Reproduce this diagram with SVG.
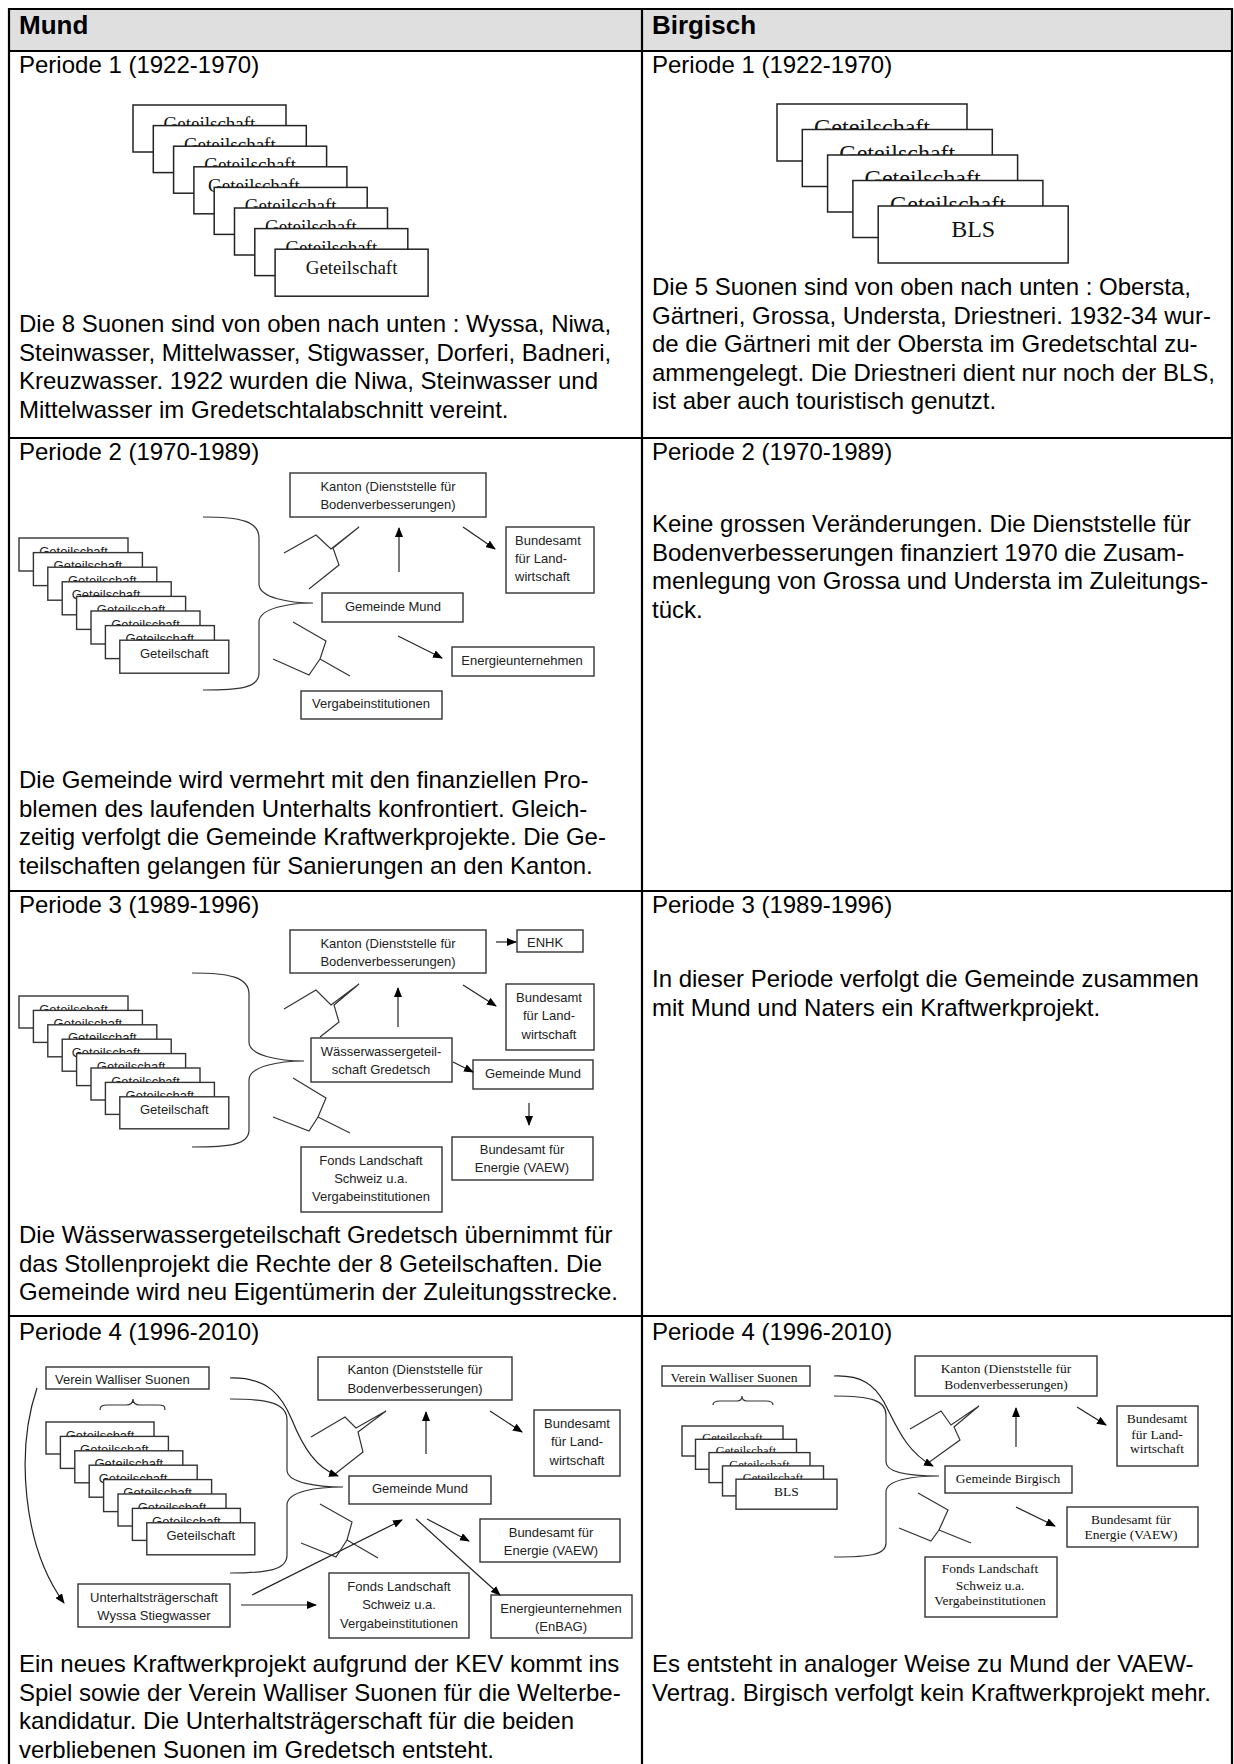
<svg xmlns="http://www.w3.org/2000/svg" width="1234" height="1764" viewBox="0 0 1234 1764">
<style>
.grid{stroke:#000;stroke-width:2.2;fill:none}
.hdr{font-family:'Liberation Sans',Arial,sans-serif;font-size:26px;font-weight:bold;fill:#000}
.body{font-family:'Liberation Sans',Arial,sans-serif;font-size:24px;fill:#000}
.box{fill:#fff;stroke:#222;stroke-width:1.5}
.sbox{fill:#fff;stroke:#333;stroke-width:1.4}
.cal{font-family:'Liberation Sans',Arial,sans-serif;font-size:13px;fill:#222;text-anchor:middle}
.tms{font-family:'Liberation Serif','Times New Roman',serif;fill:#111;text-anchor:middle}
.ln{fill:none;stroke:#333;stroke-width:1.2}
.ar{fill:none;stroke:#222;stroke-width:1.2;marker-end:url(#ah)}
</style>
<defs>
<marker id="ah" markerWidth="10" markerHeight="8" refX="9" refY="4" orient="auto" markerUnits="userSpaceOnUse"><path d="M0,0 L10,4 L0,8 z" fill="#000"/></marker>
</defs>
<rect width="1234" height="1764" fill="#fff"/>

<g id="table">
<rect x="9" y="9" width="1223" height="42" fill="#dfdfdf"/>
<path class="grid" d="M9,1764 L9,9 L1232,9 L1232,1764 M642,9 L642,1764 M9,51 L1232,51 M9,438 L1232,438 M9,891 L1232,891 M9,1316 L1232,1316"/>
<text class="hdr" x="19" y="34">Mund</text>
<text class="hdr" x="652" y="34">Birgisch</text>
</g>

<g id="labels">
<text class="body" x="19" y="73">Periode 1 (1922-1970)</text>
<text class="body" x="652" y="73">Periode 1 (1922-1970)</text>
<text class="body" x="19" y="460">Periode 2 (1970-1989)</text>
<text class="body" x="652" y="460">Periode 2 (1970-1989)</text>
<text class="body" x="19" y="913">Periode 3 (1989-1996)</text>
<text class="body" x="652" y="913">Periode 3 (1989-1996)</text>
<text class="body" x="19" y="1340">Periode 4 (1996-2010)</text>
<text class="body" x="652" y="1340">Periode 4 (1996-2010)</text>
</g>

<g id="texts" class="body">
<text x="19" y="332">Die 8 Suonen sind von oben nach unten : Wyssa, Niwa,</text>
<text x="19" y="360.5">Steinwasser, Mittelwasser, Stigwasser, Dorferi, Badneri,</text>
<text x="19" y="389">Kreuzwasser. 1922 wurden die Niwa, Steinwasser und</text>
<text x="19" y="417.5">Mittelwasser im Gredetschtalabschnitt vereint.</text>
<text x="652" y="295">Die 5 Suonen sind von oben nach unten : Obersta,</text>
<text x="652" y="323.5">Gärtneri, Grossa, Understa, Driestneri. 1932-34 wur-</text>
<text x="652" y="352">de die Gärtneri mit der Obersta im Gredetschtal zu-</text>
<text x="652" y="380.5">ammengelegt. Die Driestneri dient nur noch der BLS,</text>
<text x="652" y="409">ist aber auch touristisch genutzt.</text>
<text x="19" y="788">Die Gemeinde wird vermehrt mit den finanziellen Pro-</text>
<text x="19" y="816.5">blemen des laufenden Unterhalts konfrontiert. Gleich-</text>
<text x="19" y="845">zeitig verfolgt die Gemeinde Kraftwerkprojekte. Die Ge-</text>
<text x="19" y="873.5">teilschaften gelangen für Sanierungen an den Kanton.</text>
<text x="652" y="532">Keine grossen Veränderungen. Die Dienststelle für</text>
<text x="652" y="560.5">Bodenverbesserungen finanziert 1970 die Zusam-</text>
<text x="652" y="589">menlegung von Grossa und Understa im Zuleitungs-</text>
<text x="652" y="617.5">tück.</text>
<text x="19" y="1243">Die Wässerwassergeteilschaft Gredetsch übernimmt für</text>
<text x="19" y="1271.5">das Stollenprojekt die Rechte der 8 Geteilschaften. Die</text>
<text x="19" y="1300">Gemeinde wird neu Eigentümerin der Zuleitungsstrecke.</text>
<text x="652" y="987">In dieser Periode verfolgt die Gemeinde zusammen</text>
<text x="652" y="1015.5">mit Mund und Naters ein Kraftwerkprojekt.</text>
<text x="19" y="1672">Ein neues Kraftwerkprojekt aufgrund der KEV kommt ins</text>
<text x="19" y="1700.5">Spiel sowie der Verein Walliser Suonen für die Welterbe-</text>
<text x="19" y="1729">kandidatur. Die Unterhaltsträgerschaft für die beiden</text>
<text x="19" y="1757.5">verbliebenen Suonen im Gredetsch entsteht.</text>
<text x="652" y="1672">Es entsteht in analoger Weise zu Mund der VAEW-</text>
<text x="652" y="1700.5">Vertrag. Birgisch verfolgt kein Kraftwerkprojekt mehr.</text>
</g>

<!-- Periode 1 Mund stack -->
<g id="p1m-stack" class="tms" font-size="19">
<g id="p1m-g1"><rect class="box" x="133" y="105" width="153" height="47"/><text x="209.5" y="130">Geteilschaft</text></g>
<g id="p1m-g2"><rect class="box" x="153.3" y="125.6" width="153" height="47"/><text x="229.8" y="150.6">Geteilschaft</text></g>
<g id="p1m-g3"><rect class="box" x="173.6" y="146.2" width="153" height="47"/><text x="250.1" y="171.2">Geteilschaft</text></g>
<g id="p1m-g4"><rect class="box" x="193.9" y="166.8" width="153" height="47"/><text x="254" y="191.8">Geteilschaft</text></g>
<g id="p1m-g5"><rect class="box" x="214.2" y="187.4" width="153" height="47"/><text x="290.7" y="212.4">Geteilschaft</text></g>
<g id="p1m-g6"><rect class="box" x="234.5" y="208" width="153" height="47"/><text x="311" y="233">Geteilschaft</text></g>
<g id="p1m-g7"><rect class="box" x="254.8" y="228.6" width="153" height="47"/><text x="331.3" y="253.6">Geteilschaft</text></g>
<g id="p1m-g8"><rect class="box" x="275.1" y="249.2" width="153" height="47"/><text x="351.6" y="274.2">Geteilschaft</text></g>
</g>

<!-- Periode 1 Birgisch stack -->
<g id="p1b-stack" class="tms" font-size="24">
<g id="p1b-g1"><rect class="box" x="777" y="104" width="190" height="57"/><text x="872" y="135">Geteilschaft</text></g>
<g id="p1b-g2"><rect class="box" x="802.3" y="129.5" width="190" height="57"/><text x="897.3" y="160.5">Geteilschaft</text></g>
<g id="p1b-g3"><rect class="box" x="827.6" y="155" width="190" height="57"/><text x="922.6" y="186">Geteilschaft</text></g>
<g id="p1b-g4"><rect class="box" x="852.9" y="180.5" width="190" height="57"/><text x="947.9" y="211.5">Geteilschaft</text></g>
<g id="p1b-bls"><rect class="box" x="878.2" y="206" width="190" height="57"/><text x="973.2" y="237">BLS</text></g>
</g>

<!-- Periode 2 Mund -->
<g id="p2m-stack" class="cal">
<g id="p2m-g1"><rect class="sbox" x="19" y="538" width="109" height="33"/><text x="73.5" y="555.5">Geteilschaft</text></g>
<g id="p2m-g2"><rect class="sbox" x="33.4" y="552.6" width="109" height="33"/><text x="87.9" y="570.1">Geteilschaft</text></g>
<g id="p2m-g3"><rect class="sbox" x="47.8" y="567.2" width="109" height="33"/><text x="102.3" y="584.7">Geteilschaft</text></g>
<g id="p2m-g4"><rect class="sbox" x="62.2" y="581.8" width="109" height="33"/><text x="106" y="599.3">Geteilschaft</text></g>
<g id="p2m-g5"><rect class="sbox" x="76.6" y="596.4" width="109" height="33"/><text x="131.1" y="613.9">Geteilschaft</text></g>
<g id="p2m-g6"><rect class="sbox" x="91" y="611" width="109" height="33"/><text x="145.5" y="628.5">Geteilschaft</text></g>
<g id="p2m-g7"><rect class="sbox" x="105.4" y="625.6" width="109" height="33"/><text x="159.9" y="643.1">Geteilschaft</text></g>
<g id="p2m-g8"><rect class="sbox" x="119.8" y="640.2" width="109" height="33"/><text x="174.3" y="657.7">Geteilschaft</text></g>
</g>
<g id="p2m-kanton" class="cal"><rect class="sbox" x="290" y="473" width="196" height="44"/><text x="388" y="490.5">Kanton (Dienststelle für</text><text x="388" y="508.5">Bodenverbesserungen)</text></g>
<g id="p2m-bla" class="cal"><rect class="sbox" x="506" y="527" width="88" height="66"/><text x="515" y="544.5" text-anchor="start">Bundesamt</text><text x="515" y="562.5" text-anchor="start">für Land-</text><text x="515" y="581" text-anchor="start">wirtschaft</text></g>
<g id="p2m-gemeinde" class="cal"><rect class="sbox" x="322" y="593" width="141" height="29"/><text x="393" y="610.5">Gemeinde Mund</text></g>
<g id="p2m-energie" class="cal"><rect class="sbox" x="452" y="647" width="142" height="29"/><text x="522" y="664.5">Energieunternehmen</text></g>
<g id="p2m-vergabe" class="cal"><rect class="sbox" x="301" y="691" width="141" height="28"/><text x="371" y="707.5">Vergabeinstitutionen</text></g>
<g id="p2m-connectors">
<path class="ln" d="M203,517 C240,517 259,521 259,538 L259,584 C259,598 290,603 313,603 C290,603 259,608 259,622 L259,673 C259,688 240,690 203,690"/>
<path class="ln" d="M284,553 L316,535 L331,549 L359,527 M309,589 L339,565 L333,548 L359,527"/>
<path class="ln" d="M293,622 L326,641 L320,659 L350,676 M273,659 L309,675 L320,659"/>
<path class="ar" d="M463,527 L495,549"/>
<path class="ar" d="M399,572 L399,528"/>
<path class="ar" d="M398,636 L442,658"/>
</g>

<!-- Periode 3 Mund -->
<g id="p3m-stack" class="cal">
<g id="p3m-g1"><rect class="sbox" x="19" y="996" width="109" height="32"/><text x="73.5" y="1013.5">Geteilschaft</text></g>
<g id="p3m-g2"><rect class="sbox" x="33.4" y="1010.4" width="109" height="32"/><text x="87.9" y="1027.9">Geteilschaft</text></g>
<g id="p3m-g3"><rect class="sbox" x="47.8" y="1024.8" width="109" height="32"/><text x="102.3" y="1042.3">Geteilschaft</text></g>
<g id="p3m-g4"><rect class="sbox" x="62.2" y="1039.2" width="109" height="32"/><text x="106" y="1056.7">Geteilschaft</text></g>
<g id="p3m-g5"><rect class="sbox" x="76.6" y="1053.6" width="109" height="32"/><text x="131.1" y="1071.1">Geteilschaft</text></g>
<g id="p3m-g6"><rect class="sbox" x="91" y="1068" width="109" height="32"/><text x="145.5" y="1085.5">Geteilschaft</text></g>
<g id="p3m-g7"><rect class="sbox" x="105.4" y="1082.4" width="109" height="32"/><text x="159.9" y="1099.9">Geteilschaft</text></g>
<g id="p3m-g8"><rect class="sbox" x="119.8" y="1096.8" width="109" height="32"/><text x="174.3" y="1114.3">Geteilschaft</text></g>
</g>
<g id="p3m-kanton" class="cal"><rect class="sbox" x="290" y="930" width="196" height="43"/><text x="388" y="947.5">Kanton (Dienststelle für</text><text x="388" y="965.5">Bodenverbesserungen)</text></g>
<g id="p3m-enhk" class="cal"><rect class="sbox" x="517" y="930" width="66" height="22"/><text x="527" y="946.5" text-anchor="start">ENHK</text></g>
<g id="p3m-bla" class="cal"><rect class="sbox" x="506" y="984" width="88" height="66"/><text x="549" y="1002">Bundesamt</text><text x="549" y="1020">für Land-</text><text x="549" y="1038.5">wirtschaft</text></g>
<g id="p3m-wwg" class="cal"><rect class="sbox" x="311" y="1038" width="141" height="44"/><text x="381" y="1055.5">Wässerwassergeteil-</text><text x="381" y="1073.5">schaft Gredetsch</text></g>
<g id="p3m-gemeinde" class="cal"><rect class="sbox" x="473" y="1060" width="120" height="29"/><text x="533" y="1077.5">Gemeinde Mund</text></g>
<g id="p3m-bfe" class="cal"><rect class="sbox" x="452" y="1137" width="141" height="43"/><text x="522" y="1154">Bundesamt für</text><text x="522" y="1172">Energie (VAEW)</text></g>
<g id="p3m-fonds" class="cal"><rect class="sbox" x="301" y="1147" width="141" height="65"/><text x="371" y="1164.5">Fonds Landschaft</text><text x="371" y="1182.5">Schweiz u.a.</text><text x="371" y="1201">Vergabeinstitutionen</text></g>
<g id="p3m-connectors">
<path class="ln" d="M192,973 C229,973 249,977 249,994 L249,1042 C249,1056 280,1061 304,1061 C280,1061 249,1066 249,1080 L249,1130 C249,1145 229,1147 192,1147"/>
<path class="ln" d="M284,1009 L316,990 L331,1005 L359,984 M320,1037 L339,1022 L334,1005 L359,984"/>
<path class="ln" d="M293,1078 L326,1098 L318,1117 L350,1133 M273,1117 L309,1131 L318,1117"/>
<path class="ar" d="M496,942 L516,942"/>
<path class="ar" d="M463,985 L496,1006"/>
<path class="ar" d="M398,1027 L398,988"/>
<path class="ar" d="M453,1062 L473,1072"/>
<path class="ar" d="M529,1103 L529,1125"/>
</g>

<!-- Periode 4 Mund -->
<g id="p4m-verein" class="cal"><rect class="sbox" x="46" y="1367" width="163" height="22"/><text x="55" y="1384" text-anchor="start">Verein Walliser Suonen</text></g>
<g id="p4m-stack" class="cal">
<g id="p4m-g1"><rect class="sbox" x="46" y="1422" width="108" height="32"/><text x="100" y="1439.5">Geteilschaft</text></g>
<g id="p4m-g2"><rect class="sbox" x="60.4" y="1436.4" width="108" height="32"/><text x="114.4" y="1453.9">Geteilschaft</text></g>
<g id="p4m-g3"><rect class="sbox" x="74.8" y="1450.8" width="108" height="32"/><text x="128.8" y="1468.3">Geteilschaft</text></g>
<g id="p4m-g4"><rect class="sbox" x="89.2" y="1465.2" width="108" height="32"/><text x="133" y="1482.7">Geteilschaft</text></g>
<g id="p4m-g5"><rect class="sbox" x="103.6" y="1479.6" width="108" height="32"/><text x="157.6" y="1497.1">Geteilschaft</text></g>
<g id="p4m-g6"><rect class="sbox" x="118" y="1494" width="108" height="32"/><text x="172" y="1511.5">Geteilschaft</text></g>
<g id="p4m-g7"><rect class="sbox" x="132.4" y="1508.4" width="108" height="32"/><text x="186.4" y="1525.9">Geteilschaft</text></g>
<g id="p4m-g8"><rect class="sbox" x="146.8" y="1522.8" width="108" height="32"/><text x="200.8" y="1540.3">Geteilschaft</text></g>
</g>
<g id="p4m-unterhalt" class="cal"><rect class="sbox" x="78" y="1584" width="152" height="43"/><text x="154" y="1601.5">Unterhaltsträgerschaft</text><text x="154" y="1619.5">Wyssa Stiegwasser</text></g>
<g id="p4m-kanton" class="cal"><rect class="sbox" x="318" y="1357" width="194" height="43"/><text x="415" y="1374">Kanton (Dienststelle für</text><text x="415" y="1392.5">Bodenverbesserungen)</text></g>
<g id="p4m-bla" class="cal"><rect class="sbox" x="534" y="1410" width="86" height="66"/><text x="577" y="1427.5">Bundesamt</text><text x="577" y="1446">für Land-</text><text x="577" y="1464.5">wirtschaft</text></g>
<g id="p4m-gemeinde" class="cal"><rect class="sbox" x="349" y="1476" width="142" height="28"/><text x="420" y="1492.5">Gemeinde Mund</text></g>
<g id="p4m-bfe" class="cal"><rect class="sbox" x="480" y="1519" width="140" height="43"/><text x="551" y="1536.5">Bundesamt für</text><text x="551" y="1554.5">Energie (VAEW)</text></g>
<g id="p4m-fonds" class="cal"><rect class="sbox" x="329" y="1573" width="140" height="65"/><text x="399" y="1590.5">Fonds Landschaft</text><text x="399" y="1608.5">Schweiz u.a.</text><text x="399" y="1627.5">Vergabeinstitutionen</text></g>
<g id="p4m-energie" class="cal"><rect class="sbox" x="491" y="1595" width="141" height="43"/><text x="561" y="1612.5">Energieunternehmen</text><text x="561" y="1630.5">(EnBAG)</text></g>
<g id="p4m-connectors">
<path class="ln" d="M100,1410 C100,1406 102,1405 108,1405 L126,1405 C131,1405 133,1403 133,1399 C133,1403 135,1405 140,1405 L158,1405 C164,1405 165,1406 165,1410"/>
<path class="ln" d="M230,1399 C268,1399 287,1403 287,1420 L287,1470 C287,1483 318,1487 343,1487 C318,1487 287,1491 287,1505 L287,1555 C287,1570 268,1573 230,1573"/>
<path class="ln" d="M311,1437 L345,1417 L356,1428 L386,1411 M335,1474 L363,1452 L358,1432 L386,1411"/>
<path class="ln" d="M320,1504 L352,1522 L347,1540 L378,1558 M301,1543 L336,1557 L347,1540"/>
<path class="ar" d="M37,1388 C16,1450 22,1545 64,1603"/>
<path class="ar" d="M230,1378 C268,1377 282,1396 292,1420 C303,1447 316,1468 338,1476"/>
<path class="ar" d="M426,1454 L426,1412"/>
<path class="ar" d="M490,1411 L522,1432"/>
<path class="ar" d="M252,1595 L402,1520"/>
<path class="ar" d="M241,1605 L316,1605"/>
<path class="ar" d="M427,1519 L469,1541"/>
<path class="ar" d="M416,1519 L500,1595"/>
</g>

<!-- Periode 4 Birgisch -->
<g id="p4b-verein" class="tms" font-size="13.5"><rect class="sbox" x="662" y="1366" width="148" height="20"/><text x="734" y="1382">Verein Walliser Suonen</text></g>
<g id="p4b-stack" class="tms" font-size="12.5">
<g id="p4b-g1"><rect class="sbox" x="682" y="1426" width="101" height="30"/><text x="732.5" y="1442">Geteilschaft</text></g>
<g id="p4b-g2"><rect class="sbox" x="695.5" y="1439.3" width="101" height="30"/><text x="746" y="1455.3">Geteilschaft</text></g>
<g id="p4b-g3"><rect class="sbox" x="709" y="1452.6" width="101" height="30"/><text x="759.5" y="1468.6">Geteilschaft</text></g>
<g id="p4b-g4"><rect class="sbox" x="722.5" y="1465.9" width="101" height="30"/><text x="773" y="1481.9">Geteilschaft</text></g>
<g id="p4b-bls"><rect class="sbox" x="736" y="1479.2" width="101" height="30"/><text x="786.5" y="1496" font-size="13.5">BLS</text></g>
</g>
<g id="p4b-kanton" class="tms" font-size="13.5"><rect class="sbox" x="915" y="1356" width="182" height="40"/><text x="1006" y="1372.5">Kanton (Dienststelle für</text><text x="1006" y="1388.5">Bodenverbesserungen)</text></g>
<g id="p4b-bla" class="tms" font-size="13.5"><rect class="sbox" x="1117" y="1406" width="81" height="60"/><text x="1157" y="1422.5">Bundesamt</text><text x="1157" y="1438.5">für Land-</text><text x="1157" y="1453">wirtschaft</text></g>
<g id="p4b-gemeinde" class="tms" font-size="13.5"><rect class="sbox" x="945" y="1466" width="127" height="27"/><text x="1008" y="1483">Gemeinde Birgisch</text></g>
<g id="p4b-bfe" class="tms" font-size="13.5"><rect class="sbox" x="1067" y="1507" width="131" height="40"/><text x="1131" y="1523.5">Bundesamt für</text><text x="1131" y="1538.5">Energie (VAEW)</text></g>
<g id="p4b-fonds" class="tms" font-size="13.5"><rect class="sbox" x="925" y="1557" width="132" height="60"/><text x="990" y="1572.5">Fonds Landschaft</text><text x="990" y="1589.5">Schweiz u.a.</text><text x="990" y="1604.5">Vergabeinstitutionen</text></g>
<g id="p4b-connectors">
<path class="ln" d="M713,1405 C713,1402 715,1401 720,1401 L737,1401 C740,1401 742,1399 742,1396 C742,1399 744,1401 747,1401 L766,1401 C771,1401 773,1402 773,1405"/>
<path class="ln" d="M834,1396 C870,1396 886,1400 886,1415 L886,1462 C886,1473 912,1476 939,1476 C912,1476 886,1480 886,1492 L886,1543 C886,1555 870,1557 834,1557"/>
<path class="ln" d="M910,1429 L941,1411 L951,1425 L979,1406 M928,1463 L960,1440 L954,1427 L979,1406"/>
<path class="ln" d="M918,1493 L948,1510 L939,1530 L971,1543 M899,1528 L931,1541 L939,1530"/>
<path class="ar" d="M834,1376 C862,1375 874,1385 884,1402 C896,1425 906,1452 933,1466"/>
<path class="ar" d="M1016,1447 L1016,1408"/>
<path class="ar" d="M1077,1407 L1106,1425"/>
<path class="ar" d="M1016,1507 L1055,1526"/>
</g>
</svg>
